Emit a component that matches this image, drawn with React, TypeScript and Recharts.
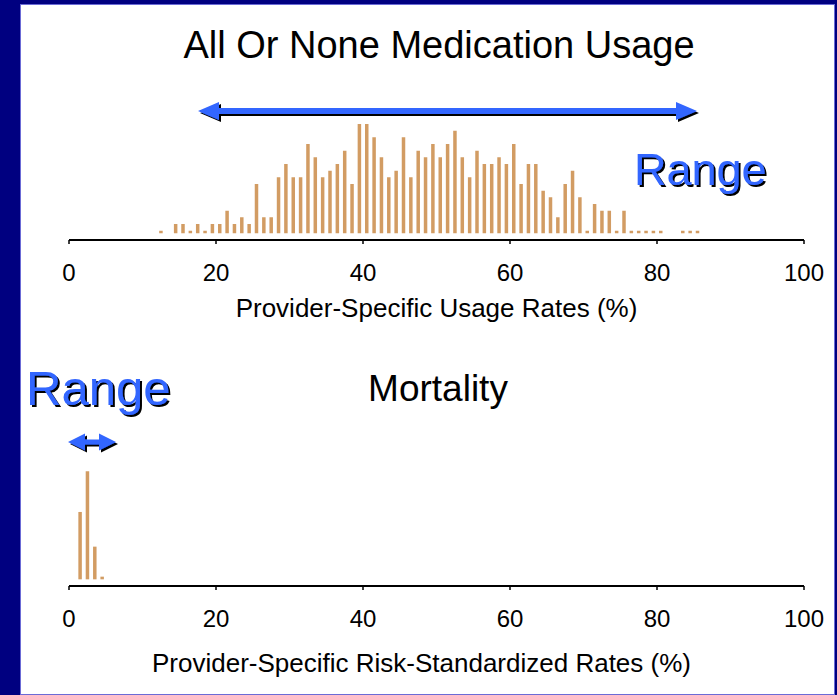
import React from 'react'
import { BarChart, Bar, XAxis, YAxis } from 'recharts'

// usage histogram: 1% bins, bar at bin centre, count of providers
const USAGE_RATE = [
	12.5, 14.5, 15.5, 16.5, 17.5, 18.5, 19.5, 20.5, 21.5, 22.5, 23.5, 24.5, 25.5, 26.5, 27.5, 28.5, 29.5,
	30.5, 31.5, 32.5, 33.5, 34.5, 35.5, 36.5, 37.5, 38.5, 39.5, 40.5, 41.5, 42.5, 43.5, 44.5, 45.5, 46.5,
	47.5, 48.5, 49.5, 50.5, 51.5, 52.5, 53.5, 54.5, 55.5, 56.5, 57.5, 58.5, 59.5, 60.5, 61.5, 62.5, 63.5,
	64.5, 65.5, 66.5, 67.5, 68.5, 69.5, 70.5, 71.5, 72.5, 73.5, 74.5, 75.5, 76.5, 77.5, 78.5, 79.5, 80.5,
	83.5, 84.5, 85.5,
]
const USAGE_COUNT = [
	1, 2, 2, 1, 2, 1, 2, 2, 4, 2, 3, 2, 8, 3, 3, 9, 11,
	9, 9, 14, 12, 9, 10, 11, 13, 8, 17, 17, 15, 12, 9, 10, 15, 9,
	13, 12, 14, 12, 14, 16, 12, 9, 13, 11, 11, 12, 11, 14, 8, 11, 11,
	7, 6, 3, 8, 10, 6, 1, 5, 4, 4, 1, 4, 1, 1, 1, 1, 1,
	1, 1, 1,
]
const MORTALITY_RATE = [1.5, 2.5, 3.5, 4.5]
const MORTALITY_COUNT = [10.7, 16.8, 5.5, 1]
const X_TICKS = [0, 20, 40, 60, 80, 100]

const TOP_TITLE = 'All Or None Medication Usage'
const BOTTOM_TITLE = 'Mortality'
const TOP_AXIS_LABEL = 'Provider-Specific Usage Rates (%)'
const BOTTOM_AXIS_LABEL = 'Provider-Specific Risk-Standardized Rates (%)'
const RANGE_TEXT = 'Range'

const usageData = USAGE_RATE.map((rate, i) => ({ rate, count: USAGE_COUNT[i] }))
const mortalityData = MORTALITY_RATE.map((rate, i) => ({ rate, count: MORTALITY_COUNT[i] }))

const FONT = '"Liberation Sans", Arial, Helvetica, sans-serif'
const BAR_COLOR = '#D29C63'
const BLUE = '#3366FF'
const BAR_FLOOR = 0.6
const barRange = (d: { count: number }) => [BAR_FLOOR, d.count]

const Histogram = ({ data, top, height, plotTop, axisHeight, yMax, label, labelDx }: any) => (
	<div style={{ position: 'absolute', left: 0, top }}>
		<BarChart width={837} height={height} data={data} margin={{ top: plotTop, right: 33, left: 69, bottom: 0 }}>
			<XAxis
				dataKey='rate'
				type='number'
				domain={[0, 100]}
				ticks={X_TICKS}
				height={axisHeight}
				axisLine={{ stroke: '#000', strokeWidth: 2 }}
				tickLine={{ stroke: '#000', strokeWidth: 1.5 }}
				tickSize={4}
				tickMargin={20}
				tick={{ fill: '#000', fontSize: 24, fontFamily: FONT }}
				label={{ value: label, position: 'insideBottom', offset: 23, dx: labelDx, fill: '#000', fontSize: 26, fontFamily: FONT }}
			/>
			<YAxis hide domain={[-0.4, yMax]} allowDataOverflow />
			<Bar dataKey={barRange} fill={BAR_COLOR} barSize={3.5} isAnimationActive={false} />
		</BarChart>
	</div>
)

const arrowPath = (x1: number, x2: number, y: number, head: number, headH: number, shaftH: number) =>
	`M${x1},${y} L${x1 + head},${y - headH / 2} L${x1 + head},${y - shaftH / 2} L${x2 - head},${y - shaftH / 2} ` +
	`L${x2 - head},${y - headH / 2} L${x2},${y} L${x2 - head},${y + headH / 2} L${x2 - head},${y + shaftH / 2} ` +
	`L${x1 + head},${y + shaftH / 2} L${x1 + head},${y + headH / 2} Z`

const Arrow = (props: { x1: number; x2: number; y: number; head: number; headH: number; shaftH: number }) => (
	<path
		d={arrowPath(props.x1, props.x2, props.y, props.head, props.headH, props.shaftH)}
		fill={BLUE}
		filter='url(#hardShadow)'
	/>
)

const RangeLabel = ({ x, y, size }: { x: number; y: number; size: number }) => (
	<text x={x} y={y} fill={BLUE} fontFamily={FONT} fontSize={size} filter='url(#hardShadow)'>
		{RANGE_TEXT}
	</text>
)

const App = () => {
	return (
		<div style={{ position: 'absolute', left: 0, top: 0, width: 837, height: 695, background: '#000080', overflow: 'hidden' }}>
			<div style={{ position: 'absolute', left: 20, top: 4, width: 815, height: 691, background: '#fff', border: '1px solid #6b6bd6', boxSizing: 'border-box' }} />
			<Histogram data={usageData} top={0} height={340} plotTop={117.3} axisHeight={100} yMax={18} label={TOP_AXIS_LABEL} labelDx={0} />
			<Histogram data={mortalityData} top={440} height={255} plotTop={26.6} axisHeight={109} yMax={17.5} label={BOTTOM_AXIS_LABEL} labelDx={-15} />
			<svg width={837} height={695} style={{ position: 'absolute', left: 0, top: 0, pointerEvents: 'none' }}>
				<defs>
					<filter id='hardShadow' x='-10%' y='-30%' width='130%' height='180%'>
						<feDropShadow dx={2} dy={2} stdDeviation={0} floodColor='#000' floodOpacity={1} />
					</filter>
				</defs>
				<text x={439} y={58} textAnchor='middle' fontFamily={FONT} fontSize={38} fill='#000'>{TOP_TITLE}</text>
				<text x={438} y={401} textAnchor='middle' fontFamily={FONT} fontSize={37} fill='#000'>{BOTTOM_TITLE}</text>
				<Arrow x1={198} x2={697} y={111} head={21} headH={18} shaftH={6} />
				<Arrow x1={68} x2={116} y={442} head={17} headH={17} shaftH={5} />
				<RangeLabel x={634} y={185} size={45} />
				<RangeLabel x={26} y={405} size={49} />
			</svg>
		</div>
	)
}

export default App
